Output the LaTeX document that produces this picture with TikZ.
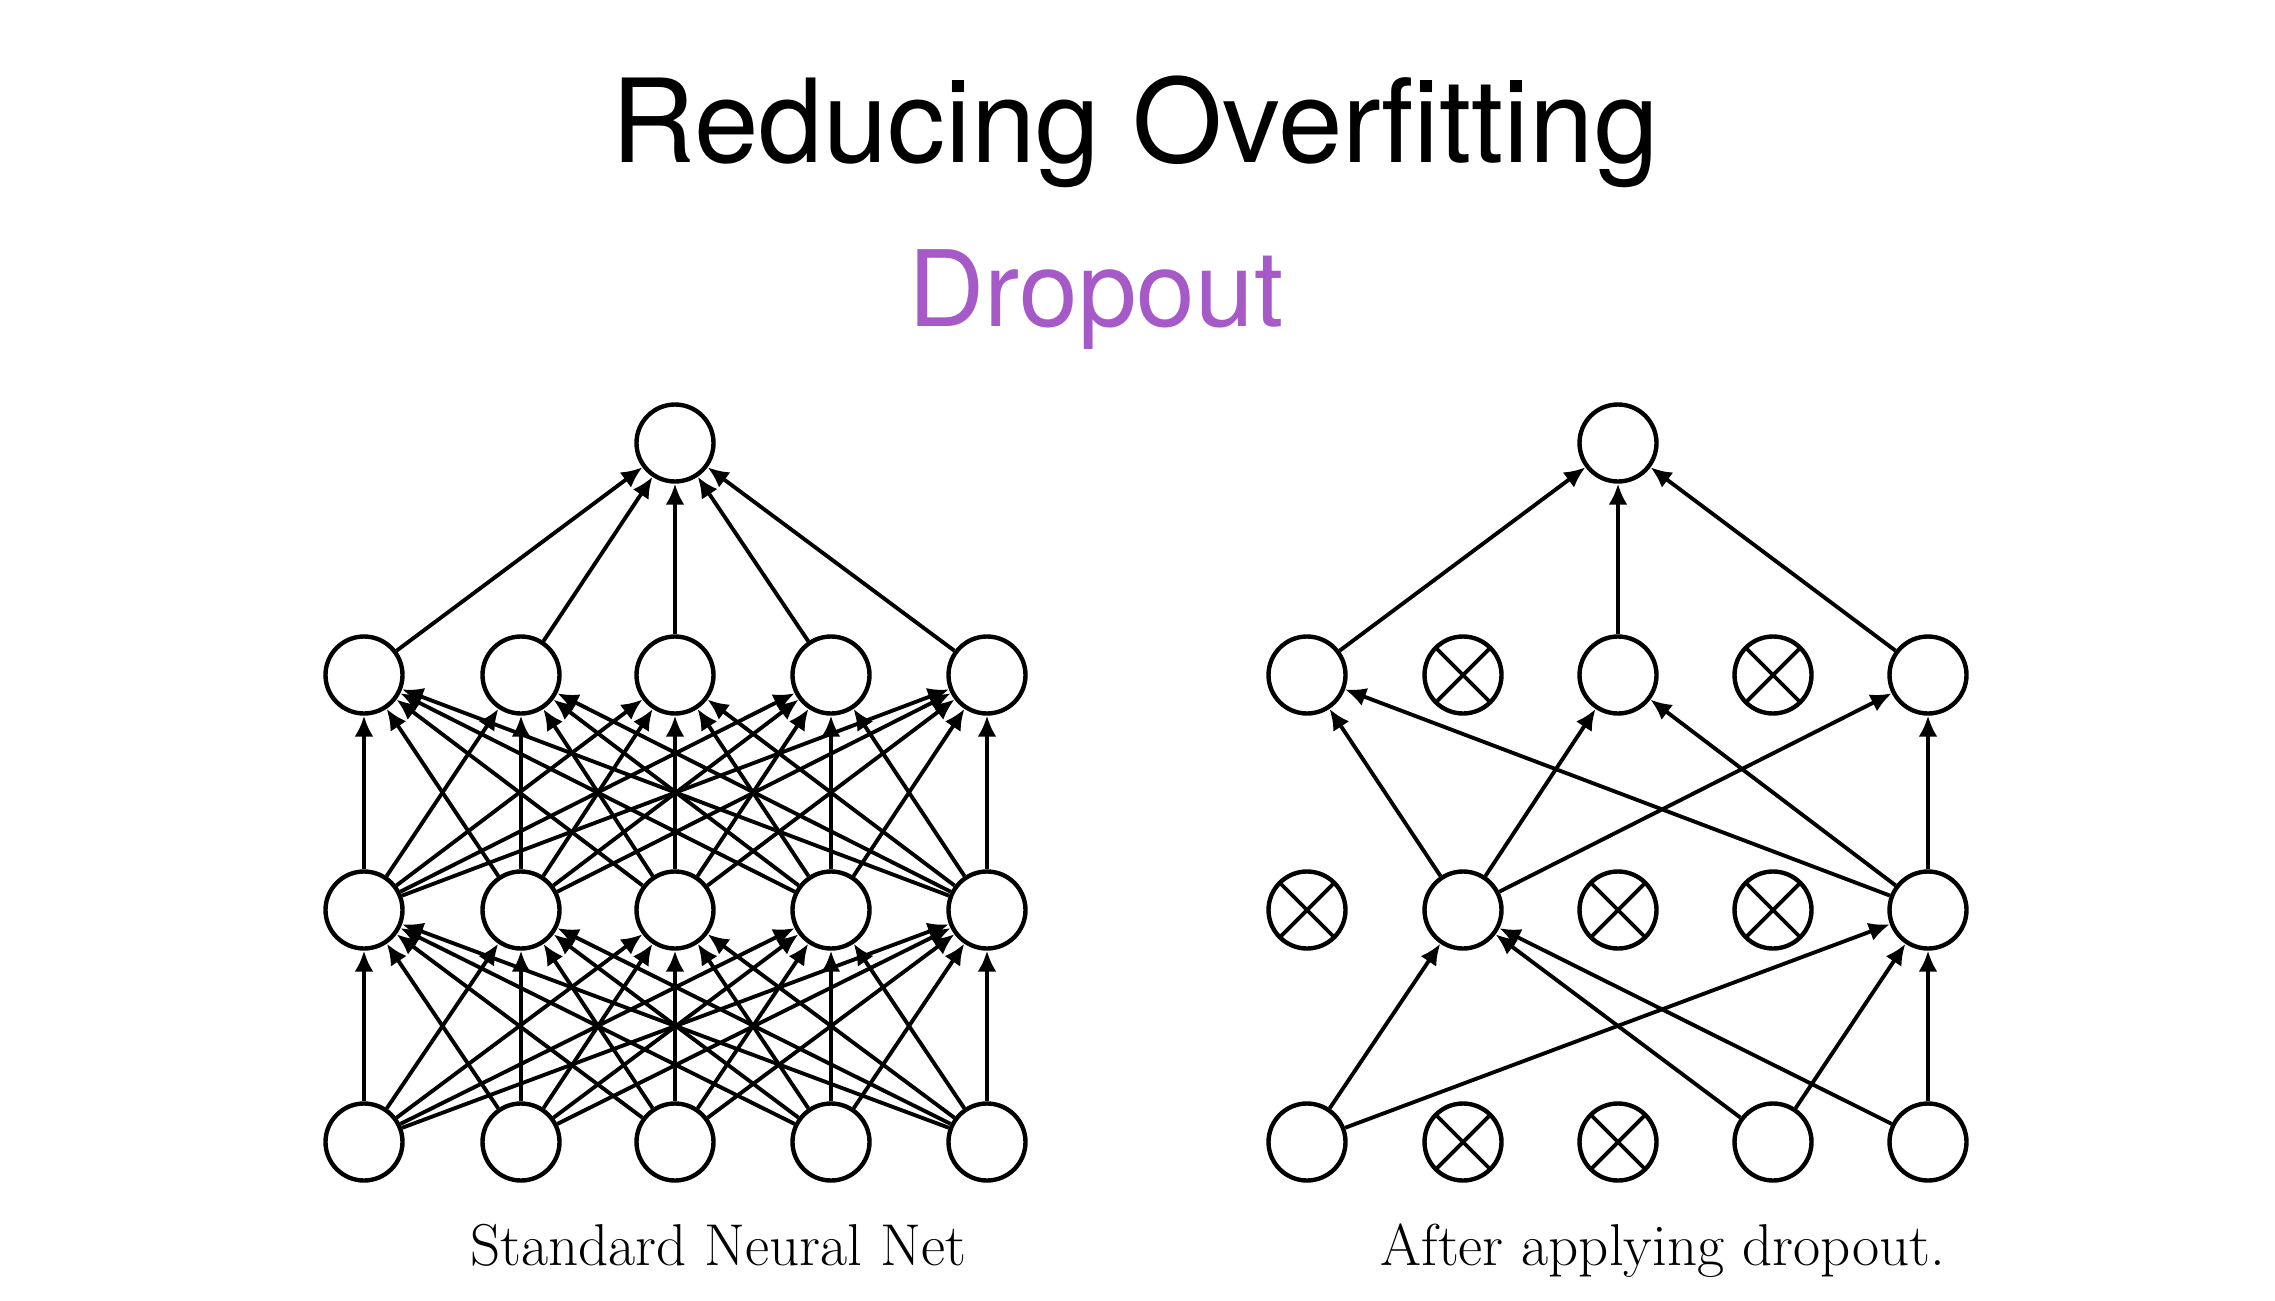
\documentclass[tikz,border=0pt]{standalone}
\usepackage{fontspec}
\setsansfont{TeX Gyre Heros}
\usetikzlibrary{arrows.meta,positioning}
\definecolor{dnink}{HTML}{000000}
\definecolor{dnpurple}{HTML}{A65AC8}
\tikzset{
  dn unit/.style={circle, draw=dnink, line width=1.25pt, minimum size=7.7mm, inner sep=0pt, fill=white},
  dn cross/.style={draw=dnink, line width=1.1pt},
  dn drop/.style={dn unit, path picture={
    \draw[dn cross] (path picture bounding box.north west) -- (path picture bounding box.south east)
      (path picture bounding box.north east) -- (path picture bounding box.south west);}},
  dn edge/.style={-{Latex[length=2.1mm,width=1.9mm]}, line width=1.1pt, draw=dnink},
  dn title/.style={font=\sffamily\fontsize{33}{36}\selectfont, text=dnink, anchor=base},
  dn caption/.style={font=\rmfamily\fontsize{16.8}{19}\selectfont, text=dnink, anchor=base}
}

\begin{document}
\begin{tikzpicture}[x=0.1mm, y=-0.1mm]
  \useasboundingbox[fill=white] (0,0) rectangle (2275,1301);
  \node[dn title] (title) at (1135,163) {Reducing Overfitting};
  \node[dn title, font=\sffamily\fontsize{30}{33}\selectfont, text=dnpurple] (subtitle) at (1096,326) {Dropout};
  % standard net
  \foreach \c [count=\i] in {364,521,675,831,987} {
    \node[dn unit] (sa\i) at (\c,1142) {};
    \node[dn unit] (sb\i) at (\c,910) {};
    \node[dn unit] (sc\i) at (\c,675) {};
  }
  \node[dn unit] (sout) at (675,443) {};
  \foreach \i in {1,...,5} \foreach \j in {1,...,5} {
    \draw[dn edge] (sa\i) -- (sb\j);
    \draw[dn edge] (sb\i) -- (sc\j);
  }
  \foreach \i in {1,...,5} \draw[dn edge] (sc\i) -- (sout);
  \node[dn caption] (scap) at (718,1265) {Standard Neural Net};
  % thinned net
  \foreach \i/\c in {1/1307,4/1773,5/1928} \node[dn unit] (da\i) at (\c,1142) {};
  \foreach \i/\c in {2/1463,3/1618} \node[dn drop] (da\i) at (\c,1142) {};
  \foreach \i/\c in {2/1463,5/1928} \node[dn unit] (db\i) at (\c,910) {};
  \foreach \i/\c in {1/1307,3/1618,4/1773} \node[dn drop] (db\i) at (\c,910) {};
  \foreach \i/\c in {1/1307,3/1618,5/1928} \node[dn unit] (dc\i) at (\c,675) {};
  \foreach \i/\c in {2/1463,4/1773} \node[dn drop] (dc\i) at (\c,675) {};
  \node[dn unit] (dout) at (1618,443) {};
  \foreach \i in {1,4,5} \foreach \j in {2,5} \draw[dn edge] (da\i) -- (db\j);
  \foreach \i in {2,5} \foreach \j in {1,3,5} \draw[dn edge] (db\i) -- (dc\j);
  \foreach \i in {1,3,5} \draw[dn edge] (dc\i) -- (dout);
  \node[dn caption] (dcap) at (1663,1265) {After applying dropout.};
\end{tikzpicture}
\end{document}
